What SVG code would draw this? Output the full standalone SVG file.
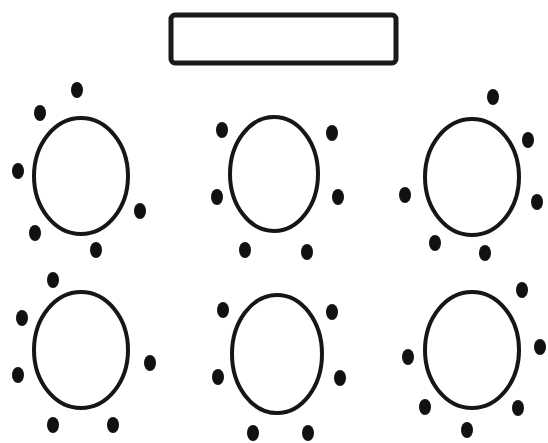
<svg xmlns="http://www.w3.org/2000/svg" width="548" height="443" viewBox="0 0 548 443">
<style>
.t{fill:none;stroke:#161616;stroke-width:4}
.d{fill:#111}
.r{fill:#fff;stroke:#1a1a1a;stroke-width:5}
</style>
<defs><ellipse id="dot" class="d" rx="6" ry="8"/></defs>
<rect width="548" height="443" fill="#fff"/>
<g id="head-table"><rect class="r" x="171" y="15" width="225" height="48" rx="4"/></g>
<g id="table1">
<ellipse class="t" cx="81" cy="176" rx="47" ry="58"/>
<use href="#dot" x="77" y="90"/><use href="#dot" x="40" y="113"/><use href="#dot" x="18" y="171"/>
<use href="#dot" x="140" y="211"/><use href="#dot" x="35" y="233"/><use href="#dot" x="96" y="250"/>
</g>
<g id="table2">
<ellipse class="t" cx="274" cy="174" rx="44" ry="57"/>
<use href="#dot" x="222" y="130"/><use href="#dot" x="332" y="133"/><use href="#dot" x="217" y="197"/>
<use href="#dot" x="338" y="197"/><use href="#dot" x="245" y="250"/><use href="#dot" x="307" y="252"/>
</g>
<g id="table3">
<ellipse class="t" cx="472" cy="177" rx="47" ry="58"/>
<use href="#dot" x="493" y="97"/><use href="#dot" x="528" y="140"/><use href="#dot" x="405" y="195"/>
<use href="#dot" x="537" y="202"/><use href="#dot" x="435" y="243"/><use href="#dot" x="485" y="253"/>
</g>
<g id="table4">
<ellipse class="t" cx="81" cy="350" rx="47" ry="58"/>
<use href="#dot" x="53" y="280"/><use href="#dot" x="22" y="318"/><use href="#dot" x="18" y="375"/>
<use href="#dot" x="150" y="363"/><use href="#dot" x="53" y="425"/><use href="#dot" x="113" y="425"/>
</g>
<g id="table5">
<ellipse class="t" cx="277" cy="354" rx="45" ry="59"/>
<use href="#dot" x="223" y="310"/><use href="#dot" x="332" y="312"/><use href="#dot" x="218" y="377"/>
<use href="#dot" x="340" y="378"/><use href="#dot" x="253" y="433"/><use href="#dot" x="308" y="433"/>
</g>
<g id="table6">
<ellipse class="t" cx="472" cy="350" rx="47" ry="58"/>
<use href="#dot" x="522" y="290"/><use href="#dot" x="540" y="347"/><use href="#dot" x="408" y="357"/>
<use href="#dot" x="425" y="407"/><use href="#dot" x="518" y="408"/><use href="#dot" x="467" y="430"/>
</g>
</svg>
